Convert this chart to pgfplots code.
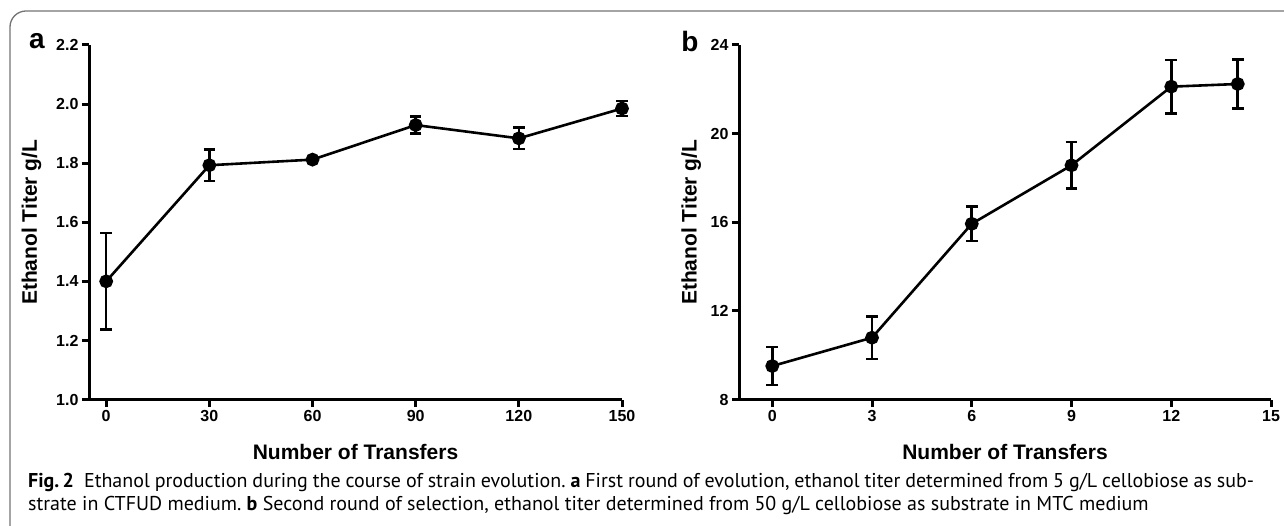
\documentclass[border=0pt]{standalone}
\usepackage{fontspec}
\setmainfont{Liberation Sans}
\newfontfamily\capfont{PT Sans}
\usepackage{pgfplots}
\usepackage{pgfplotstable}
\pgfplotsset{compat=1.18}

\definecolor{framegray}{gray}{0.45}

\pgfplotstableread{
x   y     e
0   1.400 0.163
30  1.793 0.053
60  1.812 0.005
90  1.929 0.028
120 1.884 0.036
150 1.985 0.026
}\dataa

\pgfplotstableread{
x   y     e
0   9.51  0.86
3   10.79 0.96
6   15.93 0.77
9   18.57 1.05
12  22.12 1.20
14  22.24 1.10
}\datab

\pgfplotsset{
  prism/.style={
    scale only axis,
    height=354.5pt,
    axis lines=left,
    axis line style={-, line width=3pt},
    tick align=outside,
    major tick length=7pt,
    every tick/.style={black, line width=3pt},
    clip=false,
    /pgf/number format/assume math mode=true,
    tick label style={font=\fontsize{16}{18}\selectfont\bfseries},
    xlabel style={at={(axis description cs:0.5,-0.148)}, anchor=center,
                  font=\fontsize{21}{25}\selectfont\bfseries},
    xlabel={Number of Transfers},
    ylabel={Ethanol Titer g/L},
  },
  series/.style={
    black, line width=2.6pt, mark=*, mark size=5.6pt,
    error bars/.cd, y dir=both, y explicit,
    error bar style={line width=2.6pt},
    error mark options={line width=2.6pt, mark size=5.8pt, rotate=90},
  },
}

\begin{document}
\begin{tikzpicture}
\useasboundingbox (0pt,0pt) rectangle (1284pt,525pt);
\draw[framegray, line width=1.3pt, rounded corners=16pt] (10pt,-5pt) -- (10pt,514pt) -- (1300pt,514pt);

\begin{axis}[prism,
  at={(89pt,125.5pt)}, anchor=south west,
  width=533pt,
  xmin=-5, xmax=150, ymin=1.0, ymax=2.2,
  xtick={0,30,60,90,120,150},
  ytick={1.0,1.2,1.4,1.6,1.8,2.0,2.2},
  yticklabel style={/pgf/number format/.cd, fixed, fixed zerofill, precision=1},
  ylabel style={at={(axis description cs:-0.108,0.5)}, rotate=0, anchor=center,
                font=\fontsize{21}{25}\selectfont\bfseries},
]
\addplot[series] table[x=x, y=y, y error=e] {\dataa};
\end{axis}

\begin{axis}[prism,
  at={(739pt,125.5pt)}, anchor=south west,
  width=532pt,
  xmin=-1, xmax=15, ymin=8, ymax=24,
  xtick={0,3,6,9,12,15},
  ytick={8,12,16,20,24},
  ylabel style={at={(axis description cs:-0.09,0.5)}, rotate=0, anchor=center,
                font=\fontsize{21}{25}\selectfont\bfseries},
]
\addplot[series] table[x=x, y=y, y error=e] {\datab};
\end{axis}

\node[font=\fontsize{28}{30}\selectfont\bfseries] at (37pt,484pt) {a};
\node[font=\fontsize{28}{30}\selectfont\bfseries] at (690pt,484pt) {b};

\node[anchor=north west, inner sep=0pt, text width=1226pt, align=justify,
      font=\capfont\fontsize{20}{23}\selectfont] at (28pt,52pt)
{\frenchspacing\noindent\textbf{Fig.\,2}\enspace Ethanol production during the course of strain evolution. \textbf{a} First round of evolution, ethanol titer determined from 5 g/L cellobiose as sub-\linebreak strate in CTFUD medium. \textbf{b} Second round of selection, ethanol titer determined from 50 g/L cellobiose as substrate in MTC medium};
\end{tikzpicture}
\end{document}
